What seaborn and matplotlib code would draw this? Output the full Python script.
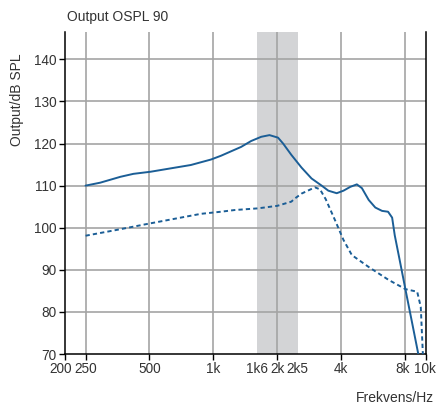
import matplotlib
matplotlib.use('agg')
import matplotlib.pyplot as plt
import matplotlib.transforms as mtransforms
import pandas as pd
import seaborn as sns

# solid curve (OSPL 90)
solid_freq = [250, 293, 365, 420, 506, 629, 783, 974, 1086, 1351, 1506, 1680, 1838, 2016,
              2130, 2330, 2600, 2900, 3236, 3480, 3810, 4100, 4410, 4740, 5008, 5390,
              5790, 6230, 6650, 6950, 7150, 7530, 8040, 8640, 9230]
solid_db = [110.0, 110.7, 112.1, 112.8, 113.3, 114.1, 114.9, 116.2, 117.1, 119.2, 120.6,
            121.6, 122.0, 121.4, 120.0, 117.3, 114.3, 111.7, 110.0, 108.8, 108.2, 108.8,
            109.7, 110.3, 109.4, 106.6, 104.8, 104.0, 103.8, 102.4, 98.2, 92.5, 85.2,
            77.3, 70.0]

# dashed curve
dashed_freq = [250, 352, 500, 873, 1086, 1257, 1620, 2000, 2330, 2400, 2600, 3010, 3180,
               3380, 3740, 4100, 4490, 5380, 6690, 8040, 9120, 9480, 9700]
dashed_db = [98.1, 99.5, 101.0, 103.3, 103.8, 104.2, 104.6, 105.2, 106.2, 106.8, 108.1,
             109.6, 109.1, 106.8, 101.8, 97.1, 93.5, 90.7, 87.6, 85.4, 84.8, 81.2, 70.0]

tick_freqs = [200, 250, 500, 1000, 2000, 4000, 8000, 10000]
tick_labels = ['200', '250', '500', '1k', '2k', '4k', '8k', '10k']
band_freqs = [1600, 2500]
band_labels = ['1k6', '2k5']
grid_freqs = [250, 500, 1000, 2000, 4000, 8000]
y_ticks = [70, 80, 90, 100, 110, 120, 130, 140]

sns.set_style('white')
plt.rcParams['font.family'] = ['Liberation Sans', 'DejaVu Sans']

blue = '#1b5e96'
grid_c = '#a4a4a4'
text_c = '#333333'

fig = plt.figure(figsize=(4.37, 4.07), dpi=100)
ax = fig.add_axes([0.1487, 0.1302, 0.8254, 0.7912])

ax.set_xscale('log')
ax.set_xlim(200, 10000)
ax.set_ylim(70, 146.5)

ax.axvspan(band_freqs[0], band_freqs[1], color='#d3d4d6', lw=0, zorder=0)
for f in grid_freqs:
    ax.axvline(f, color=grid_c, lw=1.2, zorder=1)
for v in y_ticks[1:]:
    ax.axhline(v, color=grid_c, lw=1.2, zorder=1)

solid = pd.DataFrame({'freq': solid_freq, 'db': solid_db})
dashed = pd.DataFrame({'freq': dashed_freq, 'db': dashed_db})
sns.lineplot(data=solid, x='freq', y='db', color=blue, lw=1.4, ax=ax, zorder=3, sort=False)
sns.lineplot(data=dashed, x='freq', y='db', color=blue, lw=1.4, ax=ax, zorder=3, sort=False,
             linestyle=(0, (2.2, 1.6)))

ax.set_xticks(tick_freqs)
ax.set_xticklabels(tick_labels)
ax.set_xticks(band_freqs, minor=True)
ax.set_xticklabels(band_labels, minor=True)
ax.set_yticks(y_ticks)
ax.set_yticklabels([str(v) for v in y_ticks])
ax.tick_params(axis='both', which='major', direction='out', length=4, width=1,
               color='black', labelsize=9.8, labelcolor=text_c, pad=2, bottom=True, left=True)
ax.tick_params(axis='x', which='minor', length=0, labelsize=9.8, labelcolor=text_c, pad=6)
ax.tick_params(axis='x', which='major', pad=2)

# nudge the crowded end labels apart a little
nudges = {0: -4, 6: -2, 7: -1}
xlabels = ax.get_xticklabels()
for i, dx in nudges.items():
    xlabels[i].set_transform(xlabels[i].get_transform() +
                             mtransforms.ScaledTranslation(dx / 100, 0, fig.dpi_scale_trans))

for s in ['left', 'bottom', 'right']:
    ax.spines[s].set_visible(True)
    ax.spines[s].set_color('black')
    ax.spines[s].set_linewidth(1.1)
ax.spines['top'].set_visible(False)

ax.set_xlabel('')
ax.set_ylabel('')

fig.text(67 / 437, 1 - 17 / 407, 'Output OSPL 90', fontsize=10, color=text_c,
         ha='left', va='center')
fig.text(17 / 437, 1 - 100 / 407, 'Output/dB SPL', fontsize=10, color=text_c,
         rotation=90, ha='center', va='center')
fig.text(434 / 437, 1 - 398 / 407, 'Frekvens/Hz', fontsize=10, color=text_c,
         ha='right', va='center')

fig.savefig('out.png', dpi=100)
